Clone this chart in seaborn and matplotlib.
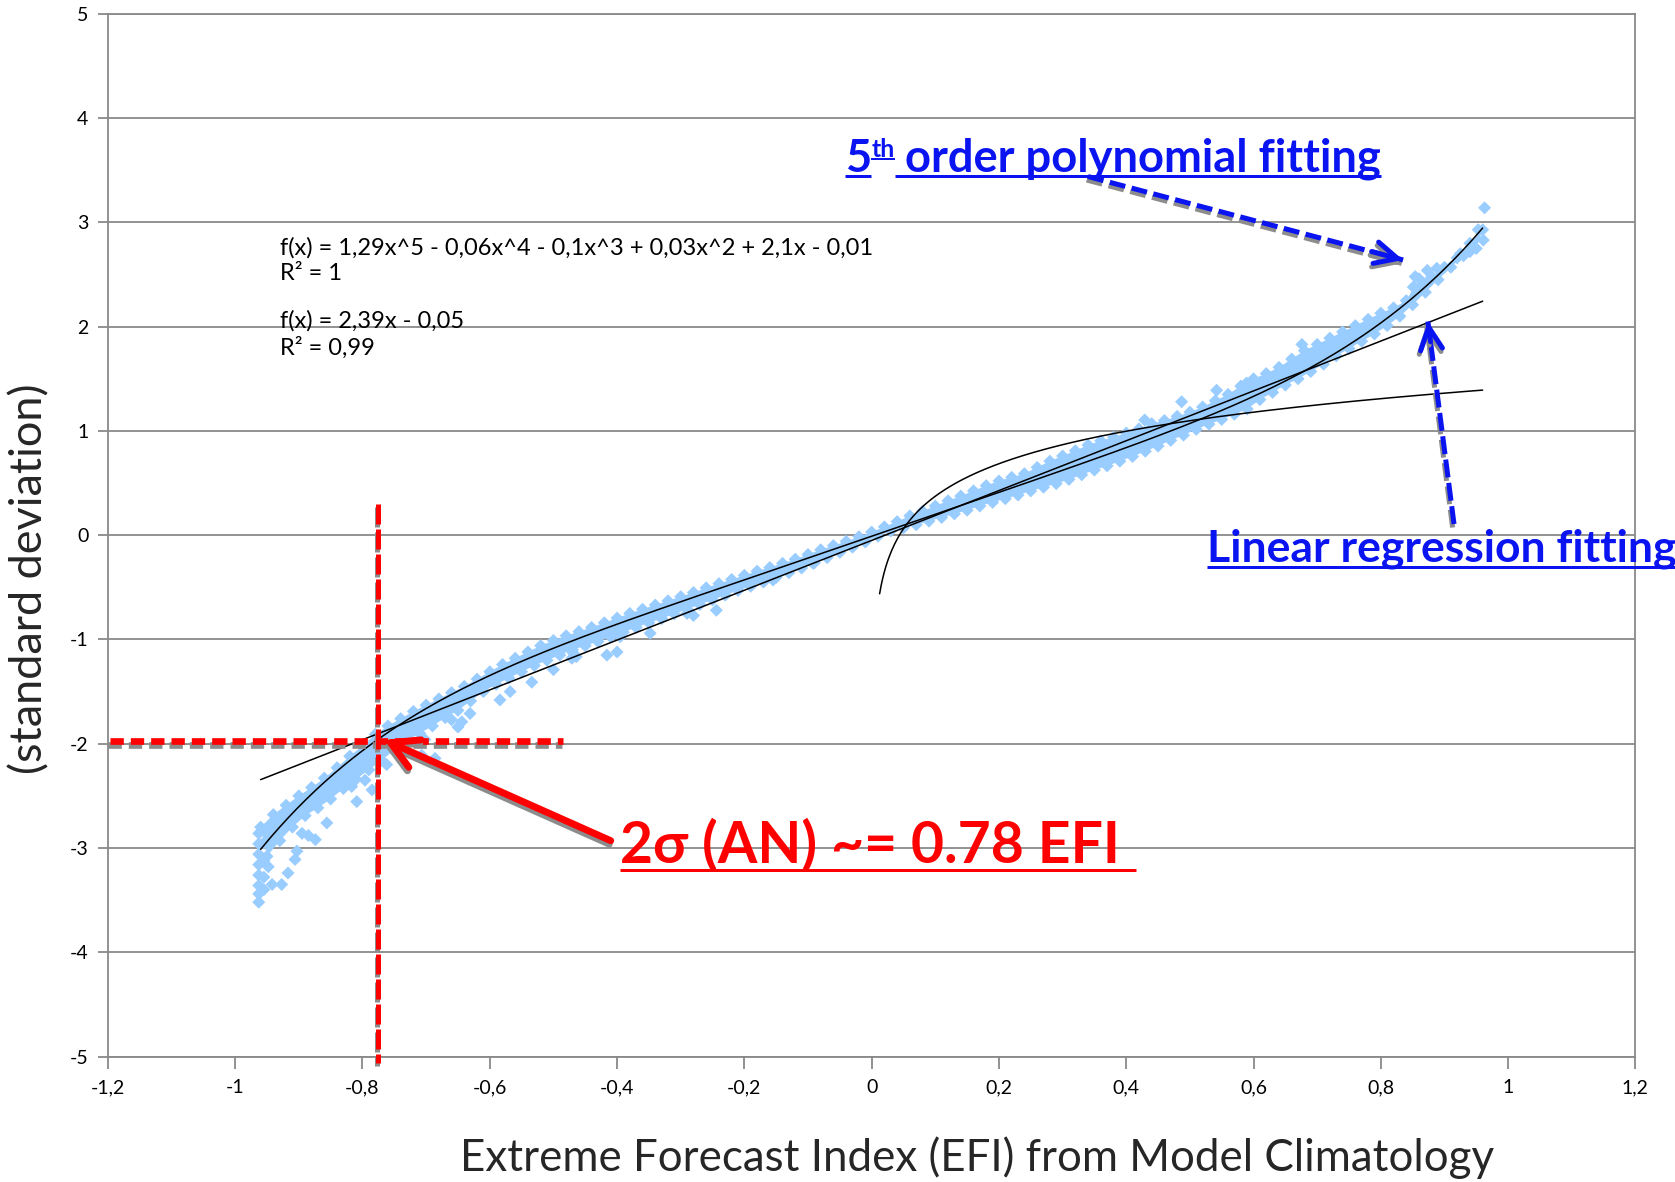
import numpy as np
import pandas as pd
import matplotlib
matplotlib.use("Agg")
import matplotlib.pyplot as plt
import matplotlib.transforms as mtransforms
from matplotlib.lines import Line2D
import seaborn as sns

sns.set_theme(style="white")
plt.rcParams["font.family"] = ["Lato", "DejaVu Sans"]

W, H, DPI = 1675, 1182, 100

# ---------------------------------------------------------------- data
# upper edge of the dense EFI / standard-deviation point cloud
upper_x = [-0.96, -0.94, -0.92, -0.90, -0.88, -0.86, -0.84, -0.82, -0.80, -0.78,
           -0.76, -0.74, -0.72, -0.70, -0.68, -0.66, -0.64, -0.62, -0.60, -0.58,
           -0.56, -0.54, -0.52, -0.50, -0.48, -0.46, -0.44, -0.42, -0.40, -0.38,
           -0.36, -0.34, -0.32, -0.30, -0.28, -0.26, -0.24, -0.22, -0.20, -0.18,
           -0.16, -0.14, -0.12, -0.10, -0.08, -0.06, -0.04, -0.02, 0.00, 0.02,
           0.04, 0.06, 0.08, 0.10, 0.12, 0.14, 0.16, 0.18, 0.20, 0.22,
           0.24, 0.26, 0.28, 0.30, 0.32, 0.34, 0.36, 0.38, 0.40, 0.42,
           0.44, 0.46, 0.48, 0.50, 0.52, 0.54, 0.56, 0.58, 0.60, 0.62,
           0.64, 0.66, 0.68, 0.70, 0.72, 0.74, 0.76, 0.78, 0.80, 0.82,
           0.84, 0.86, 0.88, 0.90, 0.92, 0.94, 0.96]
upper_y = [-2.80, -2.68, -2.59, -2.50, -2.42, -2.33, -2.23, -2.12, -2.02, -1.91,
           -1.83, -1.76, -1.69, -1.63, -1.57, -1.51, -1.45, -1.38, -1.31, -1.24,
           -1.18, -1.12, -1.06, -1.01, -0.965, -0.925, -0.885, -0.84, -0.795, -0.75,
           -0.71, -0.67, -0.63, -0.59, -0.55, -0.505, -0.465, -0.425, -0.385, -0.345,
           -0.31, -0.27, -0.23, -0.185, -0.14, -0.10, -0.06, -0.015, 0.03, 0.08,
           0.13, 0.185, 0.23, 0.28, 0.33, 0.375, 0.425, 0.475, 0.52, 0.555,
           0.59, 0.65, 0.71, 0.76, 0.81, 0.865, 0.905, 0.94, 0.98, 1.02,
           1.07, 1.10, 1.14, 1.18, 1.23, 1.29, 1.35, 1.43, 1.50, 1.55,
           1.61, 1.69, 1.77, 1.83, 1.89, 1.95, 2.01, 2.07, 2.13, 2.18,
           2.25, 2.46, 2.48, 2.57, 2.66, 2.80, 2.93]

# lower edge of the dense cloud
lower_x = [-0.95, -0.93, -0.91, -0.89, -0.87, -0.85, -0.83, -0.81, -0.79, -0.77,
           -0.75, -0.73, -0.71, -0.69, -0.67, -0.65, -0.63, -0.61, -0.59, -0.57,
           -0.55, -0.53, -0.51, -0.49, -0.47, -0.45, -0.43, -0.41, -0.39, -0.37,
           -0.35, -0.33, -0.31, -0.29, -0.27, -0.25, -0.23, -0.21, -0.19, -0.17,
           -0.15, -0.13, -0.11, -0.09, -0.07, -0.05, -0.03, -0.01, 0.01, 0.03,
           0.05, 0.07, 0.09, 0.11, 0.13, 0.15, 0.17, 0.19, 0.21, 0.23,
           0.25, 0.27, 0.29, 0.31, 0.33, 0.35, 0.37, 0.39, 0.41, 0.43,
           0.45, 0.47, 0.49, 0.51, 0.53, 0.55, 0.57, 0.59, 0.61, 0.63,
           0.65, 0.67, 0.69, 0.71, 0.73, 0.75, 0.77, 0.79, 0.81, 0.83,
           0.85, 0.87, 0.89, 0.91, 0.93, 0.95]
lower_y = [-3.08, -2.93, -2.80, -2.69, -2.615, -2.53, -2.43, -2.34, -2.25, -2.16,
           -2.06, -1.97, -1.90, -1.83, -1.75, -1.68, -1.59, -1.50, -1.43, -1.37,
           -1.31, -1.25, -1.20, -1.15, -1.10, -1.06, -1.02, -0.975, -0.93, -0.885,
           -0.84, -0.80, -0.755, -0.71, -0.665, -0.62, -0.575, -0.53, -0.49, -0.45,
           -0.405, -0.36, -0.315, -0.265, -0.215, -0.165, -0.115, -0.065, -0.01, 0.04,
           0.07, 0.10, 0.135, 0.17, 0.205, 0.24, 0.28, 0.315, 0.35, 0.385,
           0.425, 0.46, 0.495, 0.535, 0.58, 0.625, 0.665, 0.71, 0.755, 0.805,
           0.855, 0.91, 0.96, 1.015, 1.065, 1.11, 1.16, 1.21, 1.30, 1.37,
           1.44, 1.50, 1.57, 1.64, 1.72, 1.79, 1.86, 1.93, 2.01, 2.10,
           2.21, 2.33, 2.45, 2.57, 2.68, 2.75]

# steep column at the lowest EFI values
tail_x = [-0.963, -0.963, -0.963, -0.963, -0.963, -0.963, -0.963, -0.963,
          -0.955, -0.955, -0.955, -0.955]
tail_y = [-2.86, -2.96, -3.06, -3.16, -3.26, -3.36, -3.44, -3.52,
          -2.95, -3.12, -3.28, -3.40]

# isolated points away from the dense cloud
scatter_x = [-0.948, -0.942, -0.927, -0.917, -0.906, -0.903, -0.895, -0.885,
             -0.874, -0.856, -0.817, -0.809, -0.796, -0.785, -0.762, -0.707,
             -0.686, -0.702, -0.660, -0.650, -0.644, -0.631, -0.584, -0.568,
             -0.534, -0.500, -0.471, -0.464, -0.469, -0.416, -0.400, -0.395,
             -0.348, -0.290, -0.280, -0.244, -0.155, -0.092,
             0.429, 0.487, 0.542, 0.589, 0.676, 0.851, 0.854, 0.873, 0.888,
             0.925, 0.940, 0.953, 0.961, 0.963]
scatter_y = [-3.18, -3.35, -3.35, -3.24, -3.11, -3.03, -2.86, -2.88,
             -2.92, -2.76, -2.41, -2.555, -2.35, -2.443, -2.20, -2.11,
             -2.14, -1.96, -1.77, -1.84, -1.79, -1.71, -1.58, -1.50,
             -1.41, -1.29, -1.18, -1.165, -1.13, -1.15, -1.12, -0.973,
             -0.94, -0.75, -0.77, -0.72, -0.43, -0.27,
             1.105, 1.28, 1.39, 1.46, 1.83, 2.38, 2.48, 2.54, 2.56,
             2.70, 2.72, 2.93, 2.83, 3.14]

# trend lines (coefficients as printed on the chart, highest power first)
poly5_coef = [1.29, -0.06, -0.1, 0.03, 2.1, -0.01]
linear_coef = [2.39, -0.05]
log_coef = [0.45, 1.41]          # a*ln(x) + b, fitted on positive EFI only
fit_range = (-0.96, 0.96)
log_range = (0.0125, 0.96)

# 2-sigma threshold marker
threshold_efi = -0.775
threshold_sd = -1.975

x_ticks = [-1.2, -1.0, -0.8, -0.6, -0.4, -0.2, 0.0, 0.2, 0.4, 0.6, 0.8, 1.0, 1.2]
x_tick_labels = ["-1,2", "-1", "-0,8", "-0,6", "-0,4", "-0,2", "0",
                 "0,2", "0,4", "0,6", "0,8", "1", "1,2"]
y_ticks = [-5, -4, -3, -2, -1, 0, 1, 2, 3, 4, 5]
y_tick_labels = ["-5", "-4", "-3", "-2", "-1", "0", "1", "2", "3", "4", "5"]

# ---------------------------------------------------------------- figure
GRID = "#898989"
POINT = "#99ccff"
BLUE = "#0a14f0"
RED = "#ff0000"
SHADOW = "#8c8c8c"

fig = plt.figure(figsize=(W / DPI, H / DPI), dpi=DPI)
ax = fig.add_axes([107.9 / W, 1 - 1056.5 / H, (1635.4 - 107.9) / W, (1056.5 - 13.9) / H])

# the overlapping markers form a solid band between the two edges
ax.fill(upper_x + lower_x[::-1], upper_y + lower_y[::-1], color=POINT, lw=0, zorder=2)

pts = pd.DataFrame({
    "efi": upper_x + lower_x + tail_x + scatter_x,
    "sd": upper_y + lower_y + tail_y + scatter_y,
})
sns.scatterplot(data=pts, x="efi", y="sd", marker="D", s=44, color=POINT,
                edgecolor="none", linewidth=0, ax=ax, zorder=2)

xs = np.linspace(*fit_range, 400)
sns.lineplot(x=xs, y=np.polyval(poly5_coef, xs), color="black", lw=1.1,
             ax=ax, sort=False, estimator=None, zorder=3)
sns.lineplot(x=xs, y=np.polyval(linear_coef, xs), color="black", lw=1.1,
             ax=ax, sort=False, estimator=None, zorder=3)
xl = np.linspace(*log_range, 400)
sns.lineplot(x=xl, y=log_coef[0] * np.log(xl) + log_coef[1], color="black", lw=1.1,
             ax=ax, sort=False, estimator=None, zorder=3)

ax.set_xlim(-1.2, 1.2)
ax.set_ylim(-5, 5)
ax.set_xticks(x_ticks)
ax.set_xticklabels(x_tick_labels)
ax.set_yticks(y_ticks)
ax.set_yticklabels(y_tick_labels)
ax.set_xlabel("")
ax.set_ylabel("")
ax.xaxis.grid(False)
ax.yaxis.grid(True, color=GRID, lw=1.3)
ax.set_axisbelow(True)
for sp in ax.spines.values():
    sp.set_visible(True)
    sp.set_color(GRID)
    sp.set_linewidth(1.3)
ax.tick_params(axis="y", left=True, direction="out", length=7, width=1.3,
               color=GRID, pad=7, labelsize=14, labelcolor="black")
ax.tick_params(axis="x", bottom=True, direction="out", length=8.5, width=1.3,
               color=GRID, pad=8, labelsize=14, labelcolor="black")

# trend line equations
eq_kw = dict(fontsize=17, color="black", va="center", ha="left", zorder=4)
ax.text(-0.93, 2.756, "f(x) = 1,29x^5 - 0,06x^4 - 0,1x^3 + 0,03x^2 + 2,1x - 0,01", **eq_kw)
ax.text(-0.93, 2.51, "R² = 1", **eq_kw)
ax.text(-0.93, 2.06, "f(x) = 2,39x - 0,05", **eq_kw)
ax.text(-0.93, 1.80, "R² = 0,99", **eq_kw)

# axis titles
fig.text(30 / W, 1 - 579 / H, "(standard deviation)", rotation=90,
         ha="center", va="center", fontsize=32.4)
fig.text(977 / W, 1 - 1158 / H, "Extreme Forecast Index (EFI) from Model Climatology",
         ha="center", va="center", fontsize=31.6)


def shadowed(draw, dx=-1.0, dy=-2.5):
    """Draw an artist twice: a grey copy shifted by (dx, dy) points, then the real one."""
    tr = mtransforms.offset_copy(ax.transData, fig=fig, x=dx, y=dy, units="points")
    draw(tr, SHADOW)
    draw(ax.transData, None)


def dashed(xv, yv, color, lw, dashes):
    def _d(tr, c):
        ax.plot(xv, yv, transform=tr, color=c or color, lw=lw, dashes=dashes,
                dash_capstyle="butt", zorder=5, clip_on=False)
    shadowed(_d)


def head(tip, start, color, lw, hl, hw, back=0.08):
    tail = (tip[0] - back * (tip[0] - start[0]), tip[1] - back * (tip[1] - start[1]))
    def _h(tr, c):
        ax.annotate("", xy=tip, xycoords=tr, xytext=tail, textcoords=tr,
                    arrowprops=dict(arrowstyle=f"->,head_length={hl},head_width={hw}",
                                    color=c or color, lw=lw, shrinkA=0, shrinkB=0),
                    zorder=6, annotation_clip=False)
    shadowed(_h)


# 2-sigma cross-hair
dashed([-1.197, -0.485], [threshold_sd, threshold_sd], RED, 4.8, (2.0, 1.05))
dashed([threshold_efi, threshold_efi], [0.30, -5.06], RED, 3.6, (4.0, 1.0))

# red arrow to the cross-hair
red_tip, red_start = (-0.766, -1.963), (-0.41, -2.93)
head(red_tip, red_start, RED, 5.0, 1.6, 0.9, back=1.0)

# blue dashed arrows to the two fitted curves
b1_start, b1_tip = (0.340, 3.44), (0.835, 2.64)
dashed([b1_start[0], b1_tip[0]], [b1_start[1], b1_tip[1]], BLUE, 3.6, (3.2, 1.3))
head(b1_tip, b1_start, BLUE, 3.6, 1.35, 0.66, back=0.1)

b2_start, b2_tip = (0.915, 0.107), (0.874, 2.05)
dashed([b2_start[0], b2_tip[0]], [b2_start[1], b2_tip[1]], BLUE, 3.6, (3.6, 1.1))
head(b2_tip, b2_start, BLUE, 3.6, 1.35, 0.66, back=0.1)

# ---------------------------------------------------------------- callouts
BIG = 32.6
bold = dict(weight="bold", va="baseline", ha="left", family=["Lato", "DejaVu Sans"])

t5 = fig.text(845 / W, 1 - 171.7 / H, "5", fontsize=BIG, color=BLUE, **bold)
fig.canvas.draw()
r = fig.canvas.get_renderer()
bb5 = t5.get_window_extent(r)
tth = fig.text(bb5.x1 / W, 1 - 156.7 / H, "th", fontsize=BIG * 0.55, color=BLUE, **bold)
bbth = tth.get_window_extent(r)
trest = fig.text(bbth.x1 / W, 1 - 171.7 / H, " order polynomial fitting",
                 fontsize=BIG, color=BLUE, **bold)
tlin = fig.text(1207 / W, 1 - 561.7 / H, "Linear regression fitting",
                fontsize=32, color=BLUE, **bold)
tred = fig.text(620 / W, 1 - 863.3 / H, "2σ (AN) ~= 0.78 EFI",
                fontsize=41, color=RED, **bold)
fig.canvas.draw()
r = fig.canvas.get_renderer()


def underline(x0, x1, y_px, thick_px, color):
    fig.add_artist(Line2D([x0 / W, x1 / W], [1 - y_px / H] * 2, transform=fig.transFigure,
                          color=color, lw=thick_px * 72 / DPI, solid_capstyle="butt"))


underline(bb5.x0, bb5.x1, 175.5, 3, BLUE)
underline(bbth.x0, bbth.x1, 159.5, 2, BLUE)
bbr = trest.get_window_extent(r)
underline(bbth.x1, bbr.x1, 175.5, 3, BLUE)
bbl = tlin.get_window_extent(r)
underline(bbl.x0, W + 5, 566.7, 3, BLUE)
bbred = tred.get_window_extent(r)
underline(bbred.x0, bbred.x1 + 16, 869.5, 3, RED)

fig.savefig("out.png", dpi=DPI, facecolor="white")
